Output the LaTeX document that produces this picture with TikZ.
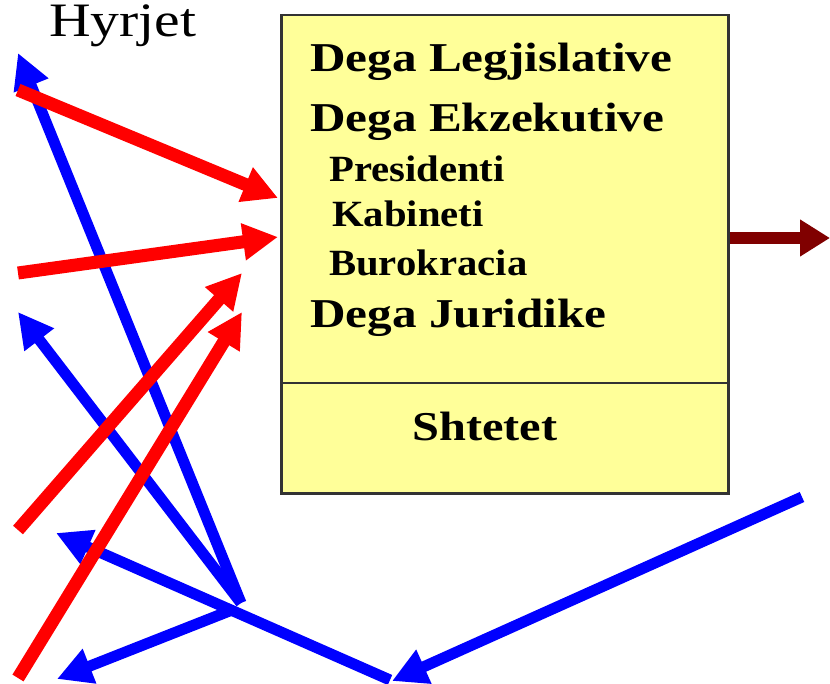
\documentclass[tikz,border=0pt]{standalone}
\usepackage{fontspec}
\setmainfont{Liberation Serif}
\usetikzlibrary{arrows.meta}
\definecolor{boxyellow}{RGB}{255,255,153}
\definecolor{darkred}{RGB}{128,0,0}
\begin{document}
\begin{tikzpicture}[x=1pt,y=-1pt,
  blu/.style={draw=blue, line width=11pt, -{Triangle[length=35pt,width=35pt]}},
  rd/.style={draw=red, line width=13pt, -{Triangle[length=35pt,width=35pt]}},
  bigtext/.style={anchor=base west, inner sep=0pt, font=\bfseries\fontsize{41}{41}\selectfont},
  smalltext/.style={anchor=base west, inner sep=0pt, font=\bfseries\fontsize{37}{37}\selectfont},
]
\useasboundingbox (0,0) rectangle (830,684);

% box
\node[draw=black!80, line width=2.5pt, fill=boxyellow, minimum width=447pt, minimum height=478pt,
      anchor=north west, inner sep=0pt] (box) at (280,14) {};
\draw[black!80, line width=2.5pt] (box.west |- 0,383) -- (box.east |- 0,383);

% texts
\node[anchor=base west, inner sep=0pt, font=\fontsize{48}{48}\selectfont] (hyr) at (49,37) {\scalebox{1.2}[1]{Hyrjet}};
\node[bigtext] (leg) at (310,72) {\scalebox{1.2}[1]{Dega Legjislative}};
\node[bigtext] (ekz) at (310,132) {\scalebox{1.2}[1]{Dega Ekzekutive}};
\node[smalltext] (pres) at (329,182) {\scalebox{1.1}[1]{Presidenti}};
\node[smalltext] (kab) at (332,227) {\scalebox{1.1}[1]{Kabineti}};
\node[smalltext] (bur) at (329,276) {\scalebox{1.1}[1]{Burokracia}};
\node[bigtext] (jur) at (310,328) {\scalebox{1.2}[1]{Dega Juridike}};
\node[anchor=base, inner sep=0pt, font=\bfseries\fontsize{41}{41}\selectfont] (sht) at (485,440) {\scalebox{1.18}[1]{Shtetet}};

% coordinates
\coordinate (hubA) at (241,603);
\coordinate (hubB) at (232,610);
\coordinate (b1) at (18,53);
\coordinate (b2) at (18,312);
\coordinate (b3s) at (390,680);
\coordinate (b3) at (56,533);
\coordinate (b4) at (57,679);
\coordinate (b5s) at (802,497);
\coordinate (b5) at (392,681);
\coordinate (r1s) at (18,90);
\coordinate (r1) at (278,198);
\coordinate (r2s) at (18,273);
\coordinate (r2) at (278,237);
\coordinate (r3s) at (18,530);
\coordinate (r3) at (242,273);
\coordinate (r4s) at (18,678);
\coordinate (r4) at (242,312);
\coordinate (out) at (830,238);

% blue arrows
\draw[blu] (hubA) -- (b1);
\draw[blu] (hubA) -- (b2);
\draw[blu] (b3s) -- (b3);
\draw[blu] (hubB) -- (b4);
\draw[blu] (b5s) -- (b5);

% red arrows
\draw[rd] (r1s) -- (r1);
\draw[rd] (r2s) -- (r2);
\draw[rd] (r3s) -- (r3);
\draw[rd] (r4s) -- (r4);

% output
\draw[draw=darkred, line width=12pt, -{Triangle[length=30pt,width=35pt]}] (box.east |- out) -- (out);
\end{tikzpicture}
\end{document}
